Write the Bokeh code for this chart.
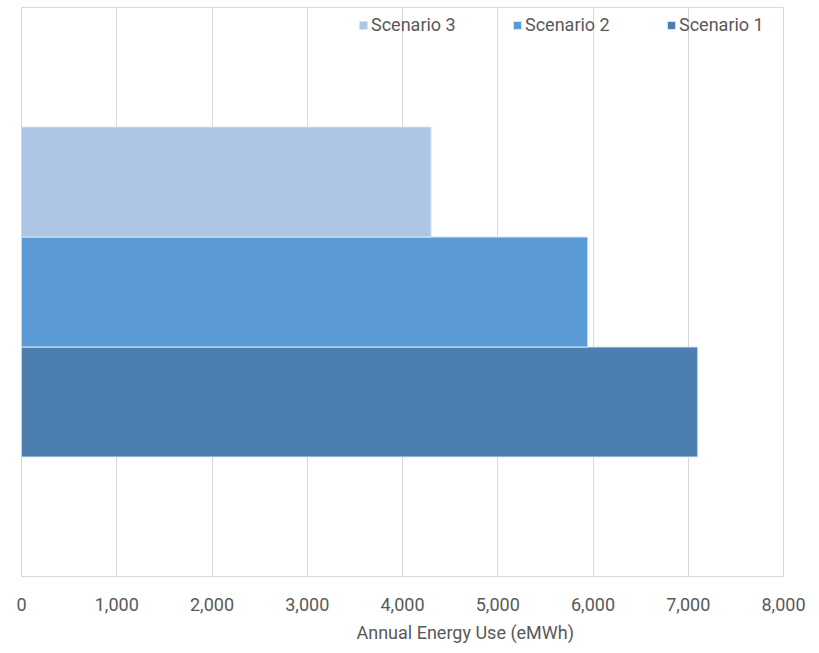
from bokeh.plotting import figure
from bokeh.models import FactorRange, Range1d, Legend, LegendItem, NumeralTickFormatter, FixedTicker, ColumnDataSource, Title
from bokeh.transform import dodge
from bokeh.embed import file_html
from bokeh.resources import INLINE

group = ["Annual Energy Use"]
scenarios = ["Scenario 1", "Scenario 2", "Scenario 3"]
values = [7100, 5945, 4300]
colors = ["#4c7fb0", "#5b9bd5", "#aec6e6"]
x_ticks = [0, 1000, 2000, 3000, 4000, 5000, 6000, 7000, 8000]
x_title = "Annual Energy Use (eMWh)"

p = figure(width=811, height=651, output_backend="svg", toolbar_location=None,
           y_range=FactorRange(factors=group, range_padding=0),
           x_range=Range1d(0, 8000), y_axis_location=None,
           min_border_left=21, min_border_right=28, min_border_top=7, min_border_bottom=75)

bar_h = 0.1933
offsets = [-bar_h, 0.0, bar_h]
renderers = {}
for name, val, col, off in zip(scenarios, values, colors, offsets):
    src = ColumnDataSource(dict(cat=group, val=[val]))
    r = p.hbar(y=dodge("cat", off, range=p.y_range), right="val", left=0, height=bar_h,
               source=src, fill_color=col, line_color="#d6e3f3", line_width=1)
    renderers[name] = r

p.xgrid.ticker = FixedTicker(ticks=x_ticks)
p.xgrid.grid_line_color = "#d9d9d9"
p.ygrid.grid_line_color = None
p.outline_line_color = "#d9d9d9"
p.outline_line_width = 1

ax = p.xaxis[0]
ax.ticker = FixedTicker(ticks=x_ticks)
ax.formatter = NumeralTickFormatter(format="0,0")
ax.axis_line_color = "#d9d9d9"
ax.major_tick_line_color = None
ax.minor_tick_line_color = None
ax.major_label_text_font = "Roboto"
ax.major_label_text_font_size = "18px"
ax.major_label_text_color = "#595959"
ax.major_label_standoff = 15

xt = Title(text=x_title, align="left", offset=335, text_font="Roboto", text_font_size="18px",
           text_font_style="normal", text_color="#595959", standoff=13)
p.add_layout(xt, "below")

legend = Legend(items=[LegendItem(label=n, renderers=[renderers[n]]) for n in ["Scenario 3", "Scenario 2", "Scenario 1"]],
                orientation="horizontal", location=(337, 541))
legend.padding = 0
legend.margin = 0
legend.border_line_color = None
legend.background_fill_alpha = 0
legend.glyph_width = 10
legend.glyph_height = 10
legend.label_height = 20
legend.label_width = 88
legend.label_standoff = 3
legend.spacing = 53
legend.label_text_font = "Roboto"
legend.label_text_font_size = "18px"
legend.label_text_color = "#595959"
p.add_layout(legend, "center")

open("out.html", "w").write(file_html(p, INLINE))
